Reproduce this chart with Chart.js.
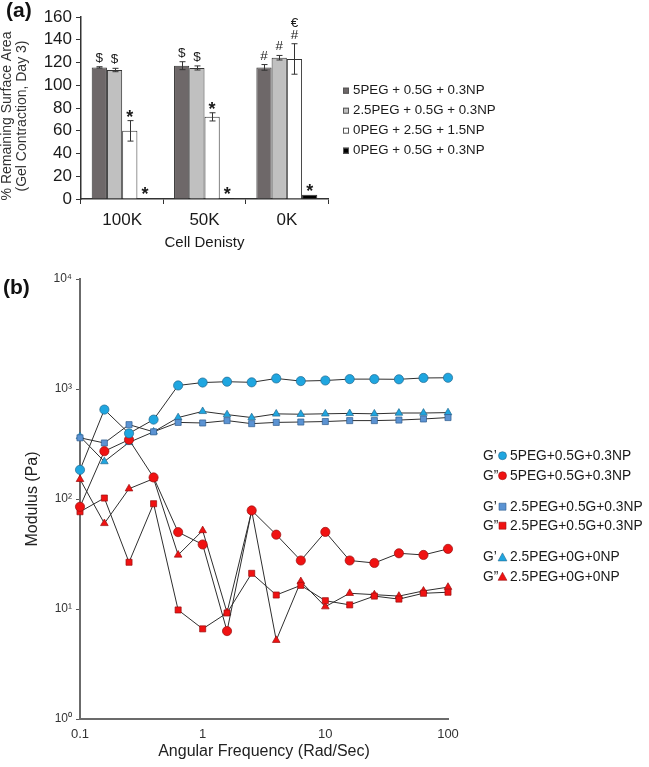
<!DOCTYPE html>
<html lang="en">
<head>
<meta charset="UTF-8">
<title>Gel contraction and modulus</title>
<script src="https://cdn.jsdelivr.net/npm/chart.js"></script>
<style>
  body { margin: 0; background: #fff; }
  canvas { position: absolute; left: 0; }
  #barChart { top: 0; }
  #modChart { top: 250px; }
</style>
</head>
<body>
<canvas id="barChart" width="649" height="250"></canvas>
<canvas id="modChart" width="649" height="517"></canvas>
<script>
const FONT = "'Liberation Sans', Arial, sans-serif";
Chart.defaults.font.family = FONT;
Chart.defaults.color = '#1a1a1a';

// ---- (a) gel contraction ----
const cellDensity = ['100K', '50K', '0K'];
const barNames = ['5PEG + 0.5G + 0.3NP', '2.5PEG + 0.5G + 0.3NP', '0PEG + 2.5G + 1.5NP', '0PEG + 0.5G + 0.3NP'];
const peg5 = [115.7, 117.2, 115.7];
const peg25 = [113.4, 115.2, 124.2];
const peg0g25 = [59.9, 72.2, 123.1];
const peg0g05 = [0.5, 0.8, 3.8];
const peg5Err = [0.6, 3.5, 2.5];
const peg25Err = [1.5, 1.8, 2.0];
const peg0g25Err = [9.0, 3.6, 13.4];
const peg0g05Err = [0, 0, 0];
// significance marks, listed bottom to top
const peg5Marks = [['$'], ['$'], ['#']];
const peg25Marks = [['$'], ['$'], ['#']];
const peg0g25Marks = [['*'], ['*'], ['#', '€']];
const peg0g05Marks = [['*'], ['*'], ['*']];
const barYTicks = [0, 20, 40, 60, 80, 100, 120, 140, 160];

const barColors = ['#6e6869', '#c0c0c0', '#ffffff', '#000000'];
const barValues = [peg5, peg25, peg0g25, peg0g05];
const barErrors = [peg5Err, peg25Err, peg0g25Err, peg0g05Err];
const barMarks = [peg5Marks, peg25Marks, peg0g25Marks, peg0g05Marks];

const barExtras = {
  id: 'barExtras',
  afterDatasetsDraw(chart) {
    const ctx = chart.ctx;
    const y = chart.scales.y;
    ctx.save();
    chart.data.datasets.forEach((ds, di) => {
      const meta = chart.getDatasetMeta(di);
      meta.data.forEach((bar, i) => {
        const v = barValues[di][i], e = barErrors[di][i];
        const top = y.getPixelForValue(v + e);
        if (e > 0) {
          const bot = y.getPixelForValue(v - e);
          const x = Math.round(bar.x) + 0.5;
          ctx.strokeStyle = '#333';
          ctx.lineWidth = 1;
          ctx.beginPath();
          ctx.moveTo(x, top); ctx.lineTo(x, bot);
          ctx.moveTo(x - 3, top); ctx.lineTo(x + 3, top);
          ctx.moveTo(x - 3, bot); ctx.lineTo(x + 3, bot);
          ctx.stroke();
        }
        ctx.fillStyle = '#1a1a1a';
        ctx.textAlign = 'center';
        ctx.textBaseline = 'alphabetic';
        barMarks[di][i].forEach((m, j) => {
          if (m === '*') {
            ctx.font = 'bold 18px ' + FONT;
            ctx.fillText(m, bar.x, top + 2 - j * 12);
          } else {
            ctx.font = '13.5px ' + FONT;
            ctx.fillText(m, bar.x, top - 5 - j * 12);
          }
        });
      });
    });
    ctx.restore();
  },
  afterDraw(chart) {
    const ctx = chart.ctx;
    ctx.save();
    // panel label
    ctx.fillStyle = '#111';
    ctx.font = 'bold 21px ' + FONT;
    ctx.textBaseline = 'middle';
    ctx.textAlign = 'left';
    ctx.fillText('(a)', 6, 11);
    // y axis title (two lines)
    ctx.fillStyle = '#333';
    ctx.font = '14px ' + FONT;
    ctx.textAlign = 'center';
    ctx.translate(7, 116);
    ctx.rotate(-Math.PI / 2);
    ctx.fillText('% Remaining Surface Area', 0, 0);
    ctx.fillText('(Gel Contraction, Day 3)', 0, 15.5);
    ctx.restore();
    // legend
    ctx.save();
    ctx.font = '13.3px ' + FONT;
    ctx.textBaseline = 'middle';
    ctx.textAlign = 'left';
    barNames.forEach((name, i) => {
      const yy = 90.7 + i * 20;
      ctx.fillStyle = barColors[i];
      ctx.strokeStyle = '#555';
      ctx.lineWidth = 1;
      ctx.fillRect(343, yy - 3, 6, 6);
      ctx.strokeRect(343.5, yy - 2.5, 5, 5);
      ctx.fillStyle = '#1a1a1a';
      ctx.fillText(name, 353, yy);
    });
    ctx.restore();
  }
};

new Chart(document.getElementById('barChart'), {
  type: 'bar',
  data: {
    labels: cellDensity,
    datasets: barNames.map((name, i) => ({
      label: name,
      data: barValues[i],
      backgroundColor: barColors[i],
      borderColor: '#333',
      borderWidth: 1,
      barPercentage: 1,
      categoryPercentage: 0.74
    }))
  },
  options: {
    responsive: false,
    animation: false,
    layout: { padding: { top: 17, right: 321, left: 0, bottom: 0 } },
    plugins: { legend: { display: false }, tooltip: { enabled: false } },
    scales: {
      x: {
        grid: { display: true, drawOnChartArea: false, tickLength: 5, color: '#333' },
        border: { color: '#333', width: 1.5 },
        ticks: { font: { size: 17 }, padding: 6, color: '#1a1a1a' },
        title: { display: true, text: 'Cell Denisty', font: { size: 15, lineHeight: 1 }, padding: 0, color: '#1a1a1a' },
        afterFit: s => { s.height = 51; }
      },
      y: {
        min: 0, max: 160,
        afterBuildTicks: s => { s.ticks = barYTicks.map(v => ({ value: v })); },
        grid: { display: true, drawOnChartArea: false, tickLength: 5, color: '#333' },
        border: { color: '#333', width: 1.5 },
        ticks: { autoSkip: false, font: { size: 17 }, padding: 4, color: '#1a1a1a' },
        afterFit: s => { s.width = 81; }
      }
    }
  },
  plugins: [barExtras]
});

// ---- (b) modulus vs angular frequency ----
const freq = [0.1, 0.158, 0.251, 0.398, 0.631, 1, 1.58, 2.51, 3.98, 6.31, 10, 15.8, 25.1, 39.8, 63.1, 100];
const gp5 = [184, 650, 395, 527, 1077, 1145, 1165, 1150, 1247, 1180, 1195, 1230, 1230, 1225, 1260, 1265];
const gpp5 = [85, 272, 346, 157, 50, 38.6, 6.3, 78.7, 47.4, 27.6, 50.2, 27.6, 26.2, 32.1, 31, 35.2];
const gp25 = [360, 323, 474, 408, 497, 491, 516, 484, 497, 501, 506, 516, 516, 522, 534, 550];
const gpp25 = [76.6, 102, 26.6, 90.6, 9.8, 6.6, 9.2, 21.1, 13.4, 16.4, 11.9, 10.9, 13.1, 12.3, 13.9, 14.2];
const gp25b = [370, 219, 327, 408, 550, 626, 585, 550, 594, 590, 595, 600, 595, 605, 605, 610];
const gpp25b = [151, 60, 124, 153, 31, 51.7, 9.3, 78, 5.2, 17.8, 10.5, 13.9, 13.5, 13.1, 14.6, 15.8];
const seriesNames = ['5PEG+0.5G+0.3NP', '5PEG+0.5G+0.3NP', '2.5PEG+0.5G+0.3NP', '2.5PEG+0.5G+0.3NP', '2.5PEG+0G+0NP', '2.5PEG+0G+0NP'];
const seriesPrefix = ['G’', 'G”', 'G’', 'G”', 'G’', 'G”'];
const xTicks = [0.1, 1, 10, 100];
const xTickLabels = ['0.1', '1', '10', '100'];
const yTicks = [1, 10, 100, 1000, 10000];
const yTickLabels = ['10⁰', '10¹', '10²', '10³', '10⁴'];

const CYAN = '#1fa6e0', STEEL = '#5b93d3', RED = '#f01212';
const seriesValues = [gp5, gpp5, gp25, gpp25, gp25b, gpp25b];
const seriesStyle = [
  { shape: 'circle', fill: CYAN, edge: '#23688f', r: 4.6 },
  { shape: 'circle', fill: RED, edge: '#9a1010', r: 4.6 },
  { shape: 'rect', fill: STEEL, edge: '#2f5c8e', r: 4.3 },
  { shape: 'rect', fill: RED, edge: '#9a1010', r: 4.3 },
  { shape: 'triangle', fill: CYAN, edge: '#23688f', r: 4.4 },
  { shape: 'triangle', fill: RED, edge: '#9a1010', r: 4.4 }
];

function drawMarker(ctx, shape, x, y, s) {
  ctx.beginPath();
  if (shape === 'circle') {
    ctx.arc(x, y, s * 0.5, 0, Math.PI * 2);
  } else if (shape === 'rect') {
    ctx.rect(x - s / 2, y - s / 2, s, s);
  } else {
    ctx.moveTo(x, y - s * 0.55);
    ctx.lineTo(x + s * 0.55, y + s * 0.45);
    ctx.lineTo(x - s * 0.55, y + s * 0.45);
    ctx.closePath();
  }
  ctx.fill();
  ctx.stroke();
}

const modExtras = {
  id: 'modExtras',
  afterDraw(chart) {
    const ctx = chart.ctx;
    ctx.save();
    ctx.fillStyle = '#111';
    ctx.font = 'bold 21px ' + FONT;
    ctx.textBaseline = 'middle';
    ctx.textAlign = 'left';
    ctx.fillText('(b)', 3, 38);
    const rows = [205.7, 225.7, 256.7, 275.7, 307.3, 326.7];
    ctx.font = '13.8px ' + FONT;
    seriesNames.forEach((name, i) => {
      const yy = rows[i];
      const st = seriesStyle[i];
      ctx.fillStyle = '#1a1a1a';
      ctx.fillText(seriesPrefix[i], 483, yy);
      ctx.fillStyle = st.fill;
      ctx.strokeStyle = st.edge;
      ctx.lineWidth = 0.6;
      drawMarker(ctx, st.shape, 502.5, yy, st.shape === 'rect' ? 7 : 8);
      ctx.fillStyle = '#1a1a1a';
      ctx.fillText(name, 510, yy);
    });
    ctx.restore();
  }
};

new Chart(document.getElementById('modChart'), {
  type: 'line',
  data: {
    datasets: seriesValues.map((vals, i) => ({
      label: seriesPrefix[i] + ' ' + seriesNames[i],
      data: freq.map((f, k) => ({ x: f, y: vals[k] })),
      borderColor: '#2e2e2e',
      borderWidth: 1,
      tension: 0,
      fill: false,
      clip: false,
      pointStyle: seriesStyle[i].shape,
      pointRadius: seriesStyle[i].r,
      pointBackgroundColor: seriesStyle[i].fill,
      pointBorderColor: seriesStyle[i].edge,
      pointBorderWidth: 0.7
    }))
  },
  options: {
    responsive: false,
    animation: false,
    layout: { padding: { top: 29, right: 201, left: 0, bottom: 0 } },
    plugins: { legend: { display: false }, tooltip: { enabled: false } },
    scales: {
      x: {
        type: 'logarithmic',
        min: 0.1, max: 100,
        afterBuildTicks: s => { s.ticks = xTicks.map(v => ({ value: v })); },
        grid: { display: true, drawOnChartArea: false, drawTicks: false },
        border: { color: '#6b6b6b', width: 2 },
        ticks: {
          autoSkip: false, maxRotation: 0, padding: 8,
          font: { size: 13 }, color: '#333',
          callback: (v, i) => xTickLabels[i]
        },
        title: { display: true, text: 'Angular Frequency (Rad/Sec)', font: { size: 16, lineHeight: 1 }, padding: { top: 0, bottom: 7 }, color: '#222' },
        afterFit: s => { s.height = 48; }
      },
      y: {
        type: 'logarithmic',
        min: 1, max: 10000,
        afterBuildTicks: s => { s.ticks = yTicks.map(v => ({ value: v })); },
        grid: { display: true, drawOnChartArea: false, tickLength: 4, color: '#555' },
        border: { color: '#6b6b6b', width: 2 },
        ticks: {
          autoSkip: false, padding: 4,
          font: { size: 12 }, color: '#333',
          callback: (v, i) => yTickLabels[i]
        },
        title: { display: true, text: 'Modulus (Pa)', font: { size: 16, lineHeight: 1 }, padding: { top: 25, bottom: 0 }, color: '#222' },
        afterFit: s => { s.width = 80; }
      }
    }
  },
  plugins: [modExtras]
});
</script>
</body>
</html>
